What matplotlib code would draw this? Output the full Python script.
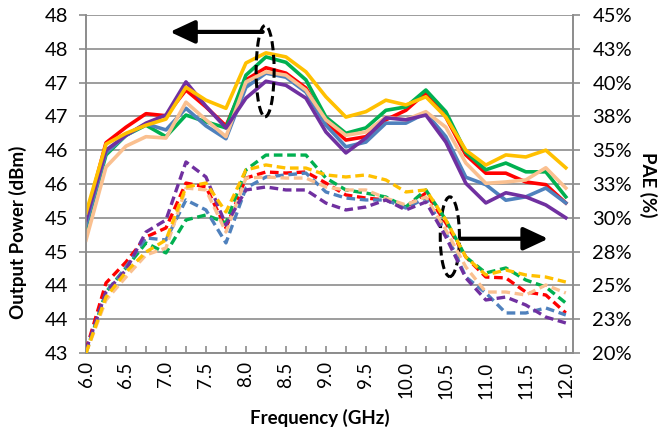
import numpy as np
import matplotlib
matplotlib.use("Agg")
import matplotlib.pyplot as plt
from matplotlib.patches import Ellipse

plt.rcParams['font.family'] = ['Lato', 'DejaVu Sans']

# frequency points (GHz)
freq = np.arange(6.0, 12.01, 0.25)

# output power (dBm), solid lines, left axis
pout_yellow = [45.07, 46.09, 46.25, 46.37, 46.46, 46.93, 46.74, 46.62, 47.29, 47.44, 47.38, 47.16, 46.79,
               46.49, 46.57, 46.74, 46.67, 46.79, 46.49, 46.00, 45.78, 45.93, 45.90, 46.00, 45.74]
pout_red = [45.00, 46.11, 46.34, 46.54, 46.51, 46.89, 46.64, 46.36, 47.04, 47.22, 47.14, 46.92, 46.42,
            46.15, 46.20, 46.45, 46.59, 46.85, 46.49, 45.93, 45.66, 45.66, 45.53, 45.49, 45.22]
pout_green = [44.86, 45.93, 46.22, 46.37, 46.20, 46.52, 46.42, 46.33, 47.11, 47.38, 47.30, 47.04, 46.49,
              46.25, 46.33, 46.59, 46.64, 46.89, 46.57, 45.97, 45.71, 45.81, 45.68, 45.68, 45.31]
pout_blue = [44.89, 45.96, 46.22, 46.39, 46.30, 46.62, 46.36, 46.17, 46.93, 47.14, 47.08, 46.86, 46.37,
             46.05, 46.12, 46.40, 46.40, 46.55, 46.20, 45.60, 45.49, 45.26, 45.31, 45.44, 45.22]
pout_purple = [44.97, 46.00, 46.22, 46.40, 46.52, 47.01, 46.65, 46.33, 46.77, 47.02, 46.96, 46.77, 46.27,
               45.96, 46.18, 46.48, 46.45, 46.52, 46.12, 45.51, 45.22, 45.37, 45.31, 45.19, 45.00]
pout_peach = [44.67, 45.75, 46.06, 46.20, 46.18, 46.71, 46.45, 46.20, 47.01, 47.16, 47.11, 46.89, 46.45,
              46.22, 46.27, 46.49, 46.45, 46.57, 46.34, 45.81, 45.51, 45.53, 45.56, 45.74, 45.44]

# PAE (%), dashed lines, right axis
pae_yellow = [20.00, 24.14, 25.99, 27.47, 28.36, 32.28, 32.57, 30.43, 33.54, 33.91, 33.68, 33.68, 33.17,
              33.02, 33.17, 32.80, 31.91, 32.06, 29.84, 27.10, 25.77, 26.14, 25.77, 25.62, 25.25]
pae_red = [20.22, 25.18, 26.73, 28.58, 29.25, 32.57, 32.28, 29.25, 32.94, 33.39, 33.31, 33.39, 32.57,
           31.69, 31.46, 31.32, 30.80, 31.83, 29.62, 27.10, 25.62, 25.55, 24.51, 24.29, 22.96]
pae_green = [20.00, 24.51, 26.29, 28.14, 27.40, 29.84, 30.21, 29.62, 33.54, 34.64, 34.64, 34.64, 32.94,
             32.06, 31.83, 31.54, 30.80, 32.06, 29.84, 27.10, 25.92, 26.29, 25.40, 24.88, 23.70]
pae_blue = [20.07, 24.44, 26.36, 28.51, 28.36, 31.32, 30.58, 28.14, 32.20, 33.02, 33.17, 33.31, 31.91,
            31.46, 31.32, 31.32, 30.72, 31.46, 28.88, 25.62, 24.44, 22.96, 22.96, 23.33, 22.81]
pae_purple = [20.22, 24.51, 26.14, 28.95, 29.84, 34.13, 33.02, 29.47, 32.06, 32.28, 32.06, 32.06, 31.09,
              30.58, 30.80, 31.32, 30.58, 31.17, 28.58, 25.55, 23.92, 24.14, 23.55, 22.66, 22.22]
pae_peach = [20.00, 23.92, 25.62, 27.25, 27.77, 32.20, 32.06, 28.95, 32.94, 33.02, 32.94, 32.94, 32.28,
             32.06, 32.06, 31.46, 30.95, 31.54, 29.10, 26.36, 24.51, 24.51, 24.29, 25.03, 24.44]

left_ticks = np.arange(43, 48.01, 0.5)
left_labels = ['43', '44', '44', '45', '45', '46', '46', '47', '47', '48', '48']
right_ticks = np.arange(20, 45.01, 2.5)
right_labels = ['20%', '23%', '25%', '28%', '30%', '33%', '35%', '38%', '40%', '43%', '45%']

colors = {'blue': '#4F81BD', 'red': '#FF0000', 'green': '#00B050',
          'purple': '#7030A0', 'yellow': '#FFC000', 'peach': '#FAC090'}
grey = '#8C8C8C'

fig = plt.figure(figsize=(6.59, 4.33), dpi=100)
ax = fig.add_axes([86 / 659, 80 / 433, 487 / 659, 338 / 433])
ax2 = ax.twinx()

solid = [('red', pout_red), ('green', pout_green), ('blue', pout_blue),
         ('peach', pout_peach), ('purple', pout_purple), ('yellow', pout_yellow)]
dashed = [('red', pae_red), ('green', pae_green), ('blue', pae_blue),
          ('peach', pae_peach), ('purple', pae_purple), ('yellow', pae_yellow)]

for c, vals in solid:
    ax.plot(freq, vals, color=colors[c], lw=2.6, solid_joinstyle='round', zorder=3)
for c, vals in dashed:
    ax2.plot(freq, vals, color=colors[c], lw=2.4, dashes=(2.6, 1.4), zorder=3)

ax.set_xlim(6.0, 12.09)
ax.set_ylim(43, 48)
ax2.set_ylim(20, 45)

ax.set_yticks(left_ticks)
ax.set_yticklabels(left_labels)
ax2.set_yticks(right_ticks)
ax2.set_yticklabels(right_labels)

ax.set_xticks(np.arange(6.0, 12.01, 0.5))
ax.set_xticklabels([f'{v:.1f}' for v in np.arange(6.0, 12.01, 0.5)], rotation=90)
ax.set_xticks(freq, minor=True)

ax.grid(axis='y', color=grey, lw=1.2)
ax.set_axisbelow(True)

for a in (ax, ax2):
    for s in a.spines.values():
        s.set_color(grey)
        s.set_linewidth(1.2)
    a.spines['top'].set_visible(False)

ax.tick_params(axis='x', which='both', direction='in', length=5, color=grey, width=1.2,
               labelsize=13.5, pad=6)
ax.tick_params(axis='y', direction='out', length=5, color=grey, width=1.2, labelsize=14.5, pad=8)
ax2.tick_params(axis='y', direction='out', length=5, color=grey, width=1.2, labelsize=14.5, pad=9)

fig.text(18 / 659, 1 - 232 / 433, 'Output Power (dBm)', rotation=90, ha='center', va='center',
         fontsize=13.5, fontweight='bold')
fig.text(648 / 659, 1 - 185 / 433, 'PAE (%)', rotation=270, ha='center', va='center',
         fontsize=13.5, fontweight='bold')
fig.text(320 / 659, 1 - 418 / 433, 'Frequency (GHz)', ha='center', va='center',
         fontsize=13.5, fontweight='bold')

# annotations: ellipses and arrows
ax.add_patch(Ellipse((8.24, 47.17), 0.225, 1.35, fill=False, ec='black', lw=2.2,
                     ls=(0, (3, 1.5)), zorder=5))
ax.add_patch(Ellipse((10.55, 44.72), 0.24, 1.18, fill=False, ec='black', lw=2.2,
                     ls=(0, (3, 1.5)), zorder=5))
ax.annotate('', xy=(7.05, 47.75), xytext=(8.21, 47.75),
            arrowprops=dict(arrowstyle='-|>,head_length=0.75,head_width=0.35', lw=3,
                            color='black', mutation_scale=20, shrinkA=0, shrinkB=0), zorder=5)
ax.annotate('', xy=(11.78, 44.69), xytext=(10.68, 44.69),
            arrowprops=dict(arrowstyle='-|>,head_length=0.75,head_width=0.35', lw=3,
                            color='black', mutation_scale=20, shrinkA=0, shrinkB=0), zorder=5)

fig.savefig('out.png', dpi=100)
